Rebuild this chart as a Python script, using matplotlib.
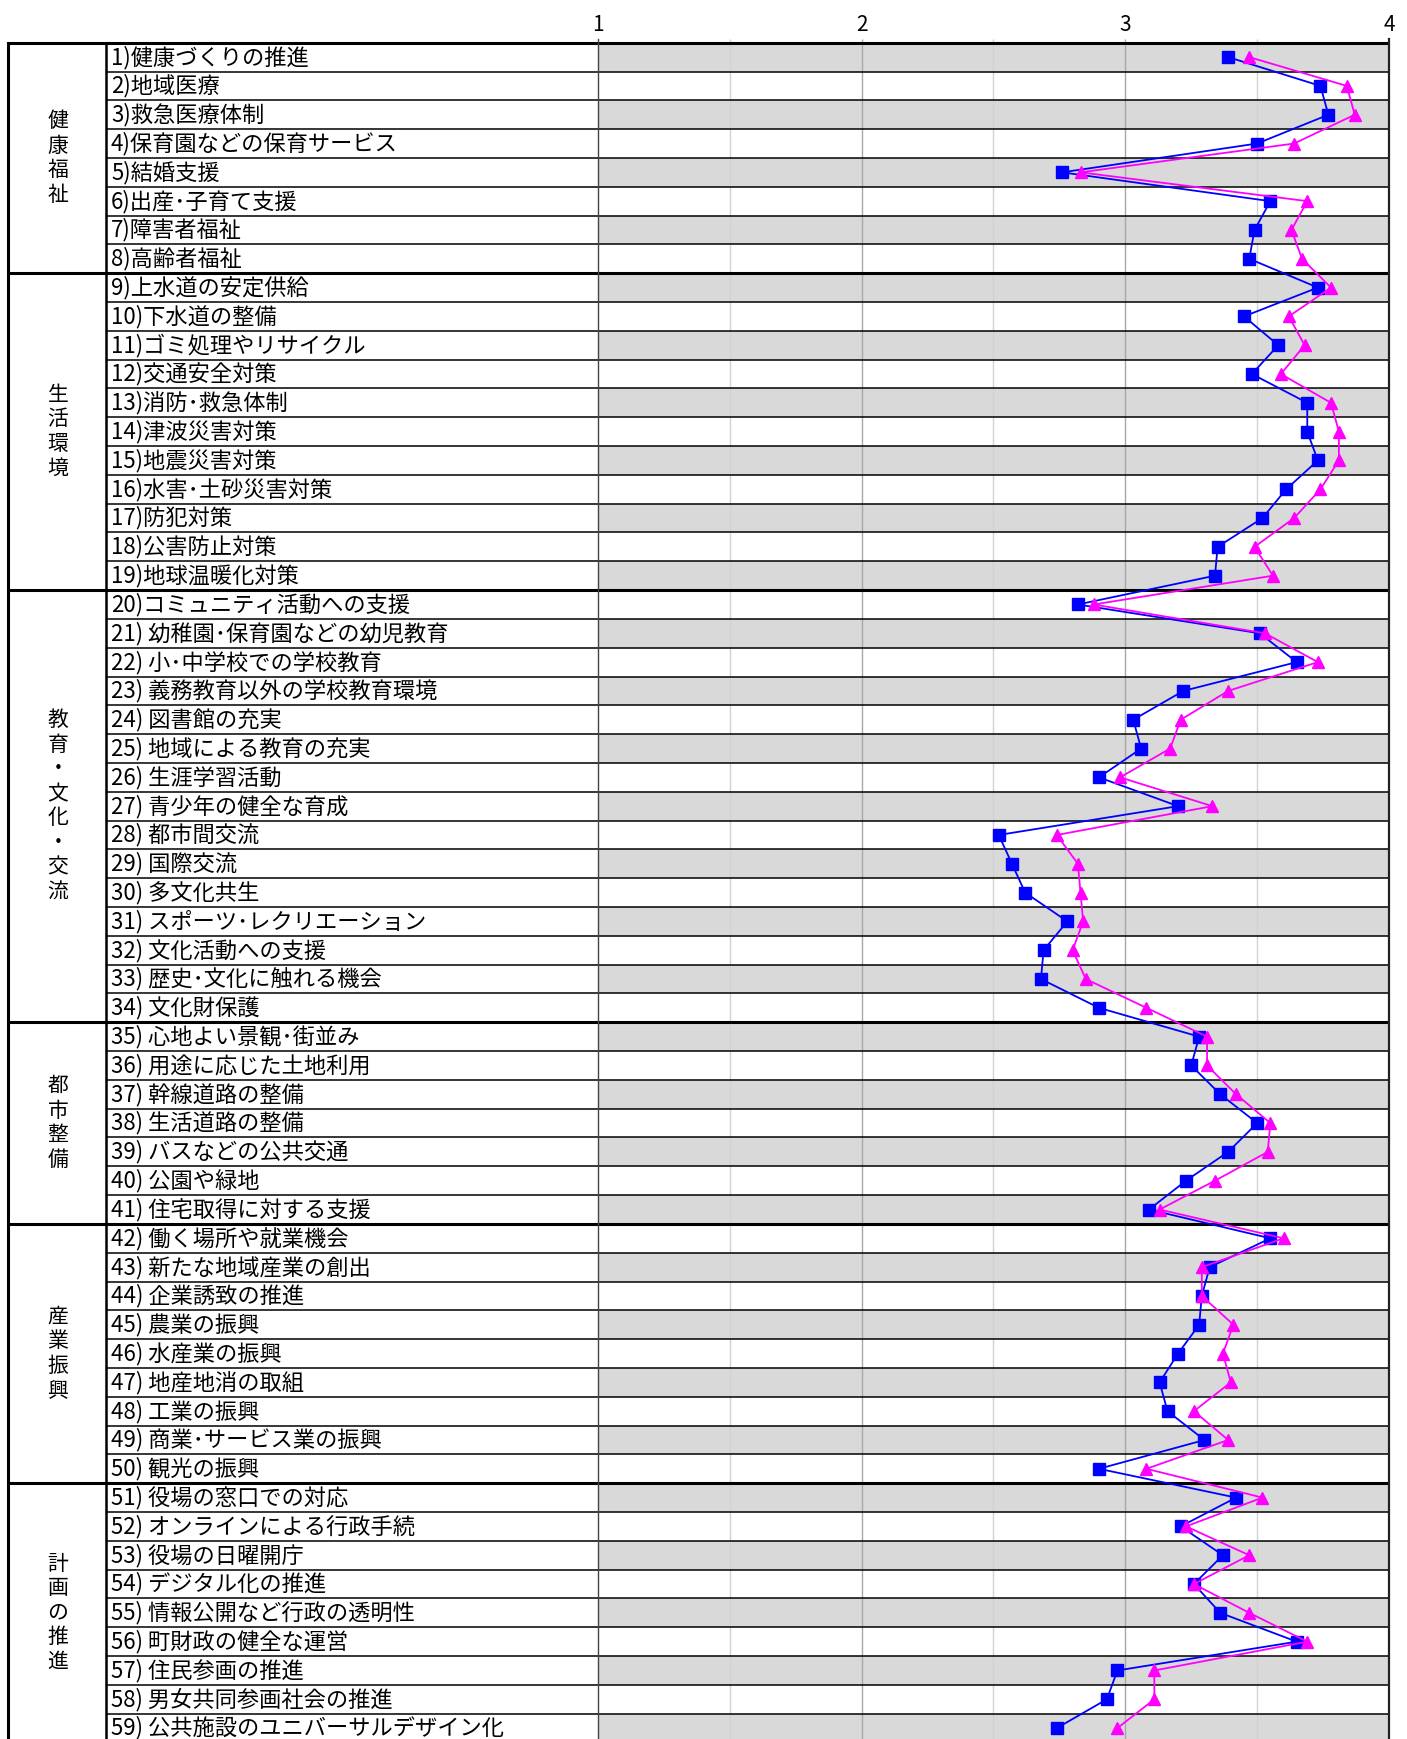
import matplotlib
matplotlib.use("Agg")
import matplotlib.pyplot as plt
import matplotlib.transforms as mtransforms

plt.rcParams["font.family"] = ["Noto Sans CJK JP", "DejaVu Sans"]

# -----------------------------
# Data
# -----------------------------
groups = ["健康福祉", "生活環境", "教育・文化・交流", "都市整備", "産業振興", "計画の推進"]
group_sizes = [8, 11, 15, 7, 9, 9]

items = [
    "1)健康づくりの推進", "2)地域医療", "3)救急医療体制", "4)保育園などの保育サービス",
    "5)結婚支援", "6)出産･子育て支援", "7)障害者福祉", "8)高齢者福祉",
    "9)上水道の安定供給", "10)下水道の整備", "11)ゴミ処理やリサイクル", "12)交通安全対策",
    "13)消防･救急体制", "14)津波災害対策", "15)地震災害対策", "16)水害･土砂災害対策",
    "17)防犯対策", "18)公害防止対策", "19)地球温暖化対策",
    "20)コミュニティ活動への支援", "21) 幼稚園･保育園などの幼児教育", "22) 小･中学校での学校教育",
    "23) 義務教育以外の学校教育環境", "24) 図書館の充実", "25) 地域による教育の充実",
    "26) 生涯学習活動", "27) 青少年の健全な育成", "28) 都市間交流", "29) 国際交流",
    "30) 多文化共生", "31) スポーツ･レクリエーション", "32) 文化活動への支援",
    "33) 歴史･文化に触れる機会", "34) 文化財保護",
    "35) 心地よい景観･街並み", "36) 用途に応じた土地利用", "37) 幹線道路の整備",
    "38) 生活道路の整備", "39) バスなどの公共交通", "40) 公園や緑地", "41) 住宅取得に対する支援",
    "42) 働く場所や就業機会", "43) 新たな地域産業の創出", "44) 企業誘致の推進", "45) 農業の振興",
    "46) 水産業の振興", "47) 地産地消の取組", "48) 工業の振興", "49) 商業･サービス業の振興",
    "50) 観光の振興",
    "51) 役場の窓口での対応", "52) オンラインによる行政手続", "53) 役場の日曜開庁",
    "54) デジタル化の推進", "55) 情報公開など行政の透明性", "56) 町財政の健全な運営",
    "57) 住民参画の推進", "58) 男女共同参画社会の推進", "59) 公共施設のユニバーサルデザイン化",
]

blue_vals = [
    3.39, 3.74, 3.77, 3.50, 2.76, 3.55, 3.49, 3.47,
    3.73, 3.45, 3.58, 3.48, 3.69, 3.69, 3.73, 3.61, 3.52, 3.35, 3.34,
    2.82, 3.51, 3.65, 3.22, 3.03, 3.06, 2.90, 3.20, 2.52, 2.57, 2.62, 2.78, 2.69, 2.68, 2.90,
    3.28, 3.25, 3.36, 3.50, 3.39, 3.23, 3.09,
    3.55, 3.32, 3.29, 3.28, 3.20, 3.13, 3.16, 3.30, 2.90,
    3.42, 3.21, 3.37, 3.26, 3.36, 3.65, 2.97, 2.93, 2.74,
]

pink_vals = [
    3.47, 3.84, 3.87, 3.64, 2.83, 3.69, 3.63, 3.67,
    3.78, 3.62, 3.68, 3.59, 3.78, 3.81, 3.81, 3.74, 3.64, 3.49, 3.56,
    2.88, 3.53, 3.73, 3.39, 3.21, 3.17, 2.98, 3.33, 2.74, 2.82, 2.83, 2.84, 2.80, 2.85, 3.08,
    3.31, 3.31, 3.42, 3.55, 3.54, 3.34, 3.13,
    3.60, 3.29, 3.29, 3.41, 3.37, 3.40, 3.26, 3.39, 3.08,
    3.52, 3.23, 3.47, 3.26, 3.47, 3.69, 3.11, 3.11, 2.97,
]

xticks = [1, 2, 3, 4]

# -----------------------------
# Layout (pixels)
# -----------------------------
W, H = 1407, 1739
TOP = 42.7
ROW_H = 28.81
X1, X4 = 598, 1389
LEFT = 8
CAT_R = 106
LABEL_X = 111
CAT_X = 58

n = len(items)
fig = plt.figure(figsize=(W / 100, H / 100), dpi=100, facecolor="white")
ax = fig.add_axes([X1 / W, 1 - (TOP + n * ROW_H) / H, (X4 - X1) / W, n * ROW_H / H])
ax.set_xlim(1, 4)
ax.set_ylim(n, 0)
for s in ax.spines.values():
    s.set_visible(False)

trans = mtransforms.blended_transform_factory(ax.transAxes, ax.transData)


def ax_x(px):
    return (px - X1) / (X4 - X1)


# row shading
for i in range(0, n, 2):
    ax.axhspan(i, i + 1, color="#d9d9d9", lw=0, zorder=0)

# grid
for v in [1.5, 2.5, 3.5]:
    ax.vlines(v, -0.13, n, color="#d2d2d2", lw=1.0, zorder=1, clip_on=False)
for v in [2, 3]:
    ax.vlines(v, -0.13, n, color="#a8a8a8", lw=1.0, zorder=1, clip_on=False)

# horizontal rules
bounds = [0]
for s in group_sizes:
    bounds.append(bounds[-1] + s)
for i in range(0, n + 1):
    if i in bounds:
        ax.plot([ax_x(LEFT), 1], [i, i], transform=trans, color="black", lw=2.2,
                clip_on=False, zorder=2, solid_capstyle="butt")
    else:
        ax.plot([ax_x(CAT_R), 1], [i, i], transform=trans, color="black", lw=1.1,
                clip_on=False, zorder=2, solid_capstyle="butt")

# vertical rules
ax.plot([ax_x(LEFT)] * 2, [0, n], transform=trans, color="black", lw=2.2, clip_on=False, zorder=2)
ax.plot([ax_x(CAT_R)] * 2, [0, n], transform=trans, color="black", lw=1.8, clip_on=False, zorder=2)
ax.plot([0, 0], [-0.13, n], transform=trans, color="#444444", lw=1.0, clip_on=False, zorder=2)
ax.plot([1, 1], [-0.13, n], transform=trans, color="#222222", lw=1.6, clip_on=False, zorder=2)

# series
ys = [i + 0.5 for i in range(n)]
ax.plot(blue_vals, ys, color="#0000ff", marker="s", ms=8.5, lw=1.3, zorder=3, clip_on=False)
ax.plot(pink_vals, ys, color="#ff00ff", marker="^", ms=9, lw=1.3, zorder=4, clip_on=False)

# item labels
for i, name in enumerate(items):
    ax.text(ax_x(LABEL_X), i + 0.5, name, transform=trans, ha="left", va="center",
            fontsize=16, color="black", clip_on=False)

# group labels, stacked vertically
step = 24.5 / ROW_H
for g, start, size in zip(groups, bounds[:-1], group_sizes):
    center = start + size / 2
    for k, ch in enumerate(g):
        ax.text(ax_x(CAT_X), center + (k - (len(g) - 1) / 2) * step, ch, transform=trans,
                ha="center", va="center", fontsize=15, color="black", clip_on=False)

# top ticks
ax.xaxis.tick_top()
ax.set_xticks(xticks)
ax.set_xticklabels([str(t) for t in xticks], fontsize=15)
ax.tick_params(axis="x", length=0, pad=5)
ax.set_yticks([])

fig.savefig("out.png", dpi=100, facecolor="white")
